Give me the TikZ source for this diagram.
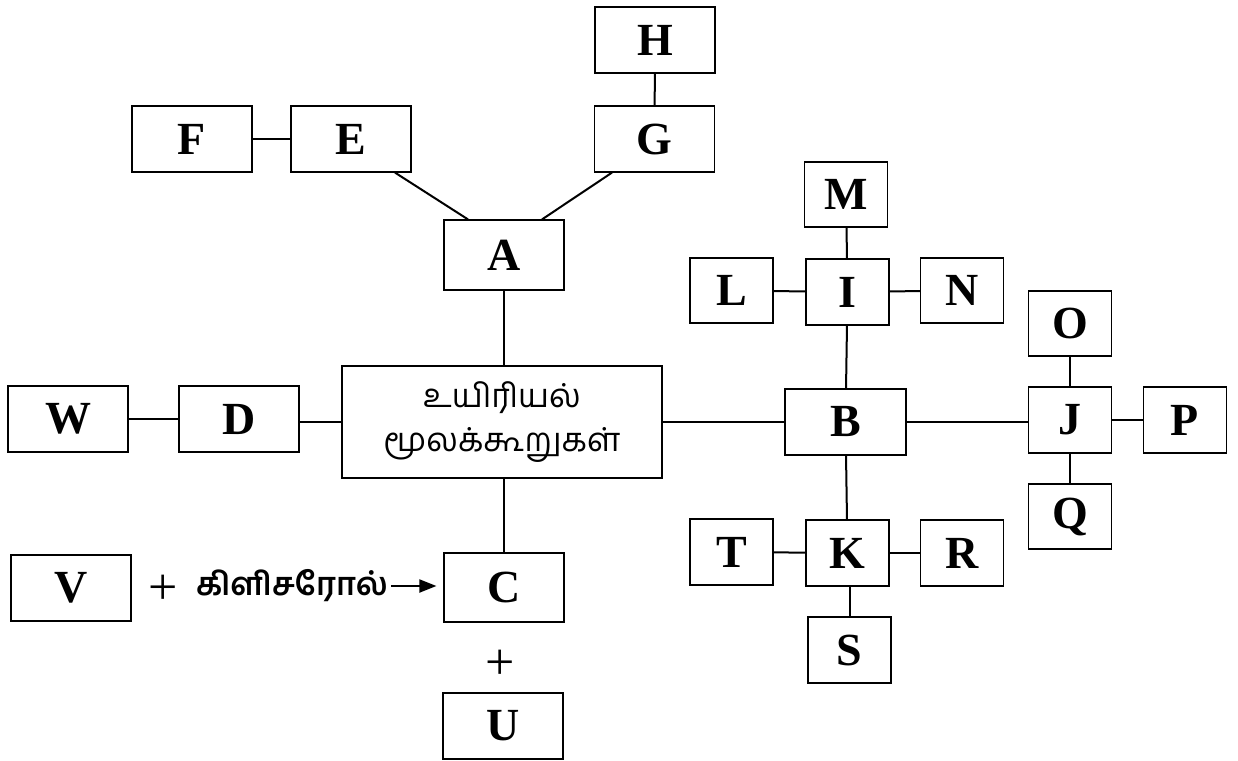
\documentclass[tikz,border=0pt]{standalone}
\usepackage{fontspec}
\setmainfont{Liberation Serif}
\newfontfamily\tamil[Script=Tamil]{Hind Madurai}
\usetikzlibrary{arrows.meta,calc}
\tikzset{
  bx/.style={draw, line width=1.2pt, inner sep=0pt, minimum height=66pt,
    font=\bfseries\fontsize{46}{46}\selectfont},
  wbox/.style={bx, minimum width=120pt},
  nbox/.style={bx, minimum width=83pt},
  conn/.style={line width=2pt},
  plus/.style={inner sep=0pt, font=\fontsize{52}{52}\selectfont},
}
\begin{document}
\begin{tikzpicture}[x=1pt,y=-1pt]
\useasboundingbox (0,0) rectangle (1238,760);
% top-left branch
\node[wbox] (F) at (192,139) {F};
\node[wbox] (E) at (351,139) {E};
\node[wbox] (H) at (655,40) {H};
\node[wbox] (G) at (654.5,139) {G};
\node[wbox, minimum height=70pt] (A) at (504,255) {A};
% centre
\node[draw, line width=1.2pt, minimum width=320pt, minimum height=112pt, inner sep=0pt,
  align=center, font=\tamil\fontsize{33}{44}\selectfont] (Z) at (502,422)
  {உயிரியல்\\மூலக்கூறுகள்};
\node[wbox] (W) at (68,419) {W};
\node[wbox] (D) at (239,419) {D};
% bottom
\node[wbox] (V) at (71,588) {V};
\node[plus] (p1) at (163,590) {+};
\node[inner sep=0pt, font=\tamil\bfseries\fontsize{32}{32}\selectfont] (gly) at (292,586) {கிளிசரோல்};
\node[wbox, minimum height=69pt] (C) at (504,587.5) {C};
\node[plus] (p2) at (500,665) {+};
\node[wbox] (U) at (503,726) {U};
% right
\node[wbox, minimum width=121pt] (B) at (845.5,422) {B};
\node[nbox, minimum height=65pt] (M) at (846,194.5) {M};
\node[nbox, minimum height=65pt] (L) at (731.5,290.5) {L};
\node[nbox] (I) at (847.5,292) {I};
\node[nbox, minimum height=65pt] (N) at (962,290.5) {N};
\node[nbox] (T) at (731.5,552) {T};
\node[nbox] (K) at (847.5,553) {K};
\node[nbox] (R) at (962,553) {R};
\node[nbox] (S) at (849.5,650) {S};
\node[nbox, minimum height=65pt] (O) at (1070,323.5) {O};
\node[nbox] (J) at (1070,420) {J};
\node[nbox] (P) at (1185,420) {P};
\node[nbox, minimum height=65pt] (Q) at (1070,516.5) {Q};
% connectors
\draw[conn] (F) -- (E);
\draw[conn] ([xshift=44pt]E.south) -- ([xshift=-36pt]A.north);
\draw[conn] ([xshift=-42.5pt]G.south) -- ([xshift=38pt]A.north);
\draw[conn] (H) -- (G);
\draw[conn] (A.south) -- (A.south |- Z.north);
\draw[conn] (Z.west) -- (D.east |- Z.west);
\draw[conn] (W) -- (D);
\draw[conn] (Z.south -| C.north) -- (C.north);
\draw[conn] (Z.east) -- (B.west);
\draw[conn] (B) -- (I);
\draw[conn] (M) -- (I);
\draw[conn] (L) -- (I);
\draw[conn] (I) -- (N);
\draw[conn] (B.east) -- (B.east -| J.west);
\draw[conn] (J) -- (O);
\draw[conn] (J) -- (P);
\draw[conn] (J) -- (Q);
\draw[conn] (B) -- (K);
\draw[conn] (T) -- (K);
\draw[conn] (K) -- (R);
\draw[conn] (S.north) -- (S.north |- K.south);
\draw[conn, -{Triangle[length=17pt, width=13pt]}, shorten <=3pt, shorten >=7pt] (gly.east) -- (C.west |- gly.east);
\end{tikzpicture}
\end{document}
